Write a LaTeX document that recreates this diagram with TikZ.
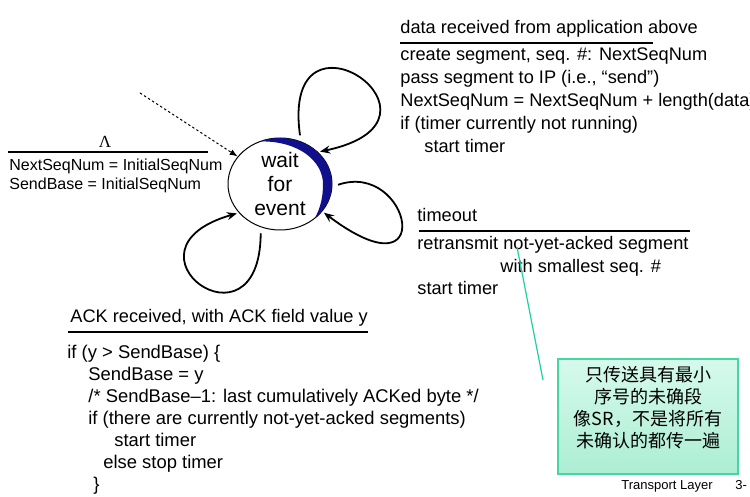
\documentclass[tikz,border=0pt]{standalone}
\usepackage{fontspec}
\setmainfont{Liberation Sans}
\newfontfamily\cjkfont{Noto Sans CJK SC}
\newfontfamily\seriffont{Liberation Serif}
\usetikzlibrary{shapes.geometric, arrows.meta, positioning}
\definecolor{crescent}{RGB}{16,16,140}
\definecolor{notetop}{RGB}{214,250,236}
\definecolor{notebot}{RGB}{172,238,212}
\definecolor{noteline}{RGB}{70,214,164}
\definecolor{pointer}{RGB}{30,208,160}

\begin{document}
\begin{tikzpicture}[x=0.5pt, y=-0.5pt,
  txt/.style = {inner sep=0, anchor=base west, align=left},
  tahoma/.style = {txt, font=\fontsize{9.1}{11.5}\selectfont},
  arial/.style = {txt, font=\fontsize{9.2}{11}\selectfont},
  small/.style = {txt, font=\fontsize{8}{9.75}\selectfont},
  bar/.style = {line width=0.9pt},
  waitst/.style = {ellipse, draw, line width=0.5pt, minimum width=52pt,
        minimum height=46pt, inner sep=0, align=center,
        font=\fontsize{10.5}{12}\selectfont},
  selfloop/.style = {line width=0.9pt, -{Stealth[length=5pt,width=4pt]},
        shorten <=3pt, shorten >=1pt},
  initarr/.style = {line width=0.5pt, dash pattern=on 1.2pt off 1.2pt,
        -{Latex[length=4pt,width=3pt]}},
  note/.style = {draw=noteline, line width=0.6pt, top color=notetop,
        bottom color=notebot, minimum width=90pt, minimum height=57.5pt},
  notetxt/.style = {inner sep=0, align=center,
        font=\cjkfont\fontsize{9}{11}\selectfont}
]
\useasboundingbox (0,0) rectangle (750,497);
\fill[white] (0,0) rectangle (750,497);

% state
\node[waitst] (wt) at (280,184) {wait\\for\\event};
\fill[crescent] (280,184) ++(-112:52 and 46) arc[start angle=-112, end angle=48,
    x radius=52, y radius=46]
  .. controls (321,207) and (323,196) .. (323,184)
  .. controls (323,162) and (300,141) .. (260.5,141.4) -- cycle;

% initial transition (multi-line nodes sit on their last baseline)
\coordinate (init) at (140,93);
\draw[initarr] (init) -- (wt.147);
\node[font=\seriffont\fontsize{8.5}{9}\selectfont, inner sep=0, anchor=base]
  (lam) at (105,148) {Λ};
\draw[bar] (8,152) -- (208,152);
\node[small] (initact) at (9,190) {NextSeqNum = InitialSeqNum\\SendBase = InitialSeqNum};

% self loops
\draw[selfloop] (wt.64) .. controls (280,-10) and (470,120) .. (wt.40);
\draw[selfloop] (wt.-3) .. controls (410,160) and (440,300) .. (wt.-33);
\draw[selfloop] (wt.-114) .. controls (260,360) and (110,250) .. (wt.215);

% data from above
\node[tahoma] (datag) at (400,34) {data received from application above};
\draw[bar] (400,43) -- (653,43);
\node[tahoma] (dataa) at (400,153) {create segment, seq. \#: NextSeqNum\\
  pass segment to IP (i.e., “send”)\\
  NextSeqNum = NextSeqNum + length(data)\\
  if (timer currently not running)\\
  \hspace*{12pt}start timer};

% timeout
\node[tahoma] (tog) at (417,222) {timeout};
\draw[bar] (419,231) -- (690,231);
\node[tahoma, font=\fontsize{9.1}{11.25}\selectfont] (toa) at (417,295)
  {retransmit not-yet-acked segment\\
  \hspace*{41.5pt}with smallest seq. \#\\
  start timer};

% ack
\node[tahoma] (ackg) at (70,323) {ACK received, with ACK field value y};
\draw[bar] (68,332) -- (368,332);
\node[arial] (acka) at (67,490) {if (y > SendBase) \{\\
  \hspace*{10.5pt}SendBase = y\\
  \hspace*{10.5pt}/* SendBase–1: last cumulatively ACKed byte */\\
  \hspace*{10.5pt}if (there are currently not-yet-acked segments)\\
  \hspace*{23.5pt}start timer\\
  \hspace*{18pt}else stop timer\\
  \hspace*{13pt}\}};

% note
\coordinate (ptip) at (517,247);
\coordinate (ptail) at (543,380);
\draw[pointer, line width=0.6pt] (ptail) -- (ptip);
\node[note] (nbox) at (648,416.5) {};
\node[notetxt] (ntext) at (648,408) {只传送具有最小\\序号的未确段\\像SR，不是将所有\\未确认的都传一遍};

% footer
\node[txt, font=\fontsize{6.5}{8}\selectfont] (foot) at (621,489) {Transport Layer};
\node[txt, font=\fontsize{6.5}{8}\selectfont] (pg) at (735,489) {3-};
\end{tikzpicture}
\end{document}
